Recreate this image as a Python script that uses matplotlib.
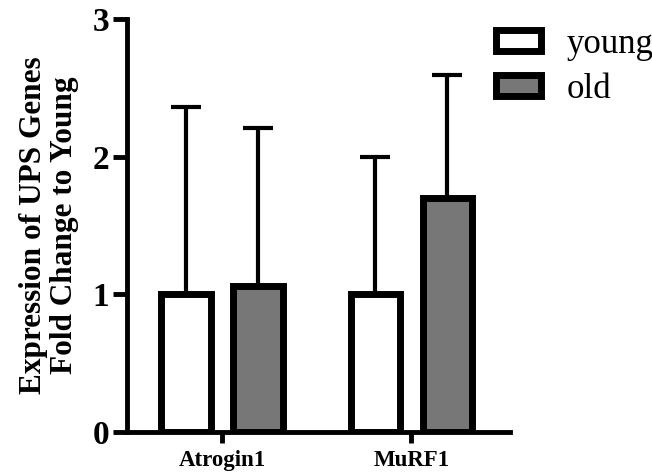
import matplotlib
matplotlib.use("Agg")
import matplotlib.pyplot as plt
import numpy as np
from matplotlib.patches import Patch

categories = ["Atrogin1", "MuRF1"]
groups = ["young", "old"]
young_mean = [1.0, 1.0]
young_sd = [1.36, 1.0]
old_mean = [1.06, 1.70]
old_sd = [1.15, 0.89]
yticks = [0, 1, 2, 3]

plt.rcParams['font.family'] = ['Liberation Serif', 'DejaVu Serif']

fig = plt.figure(figsize=(6.52, 4.75), dpi=100)
ax = fig.add_axes([0.195, 0.0905, 0.587, 0.8695])

x = np.arange(len(categories))
w = 0.26
off = 0.19
colors = ["white", "#777777"]
for i, (m, s) in enumerate([(young_mean, young_sd), (old_mean, old_sd)]):
    pos = x + (-off if i == 0 else off)
    ax.errorbar(pos, m, yerr=[np.zeros(len(m)), s], fmt='none', ecolor='black',
                elinewidth=3, capsize=11, capthick=3, zorder=1)
    ax.bar(pos, m, width=w, color=colors[i], edgecolor='black', linewidth=5,
           zorder=2, label=groups[i])

ax.set_xlim(-0.5, 1.52)
ax.set_ylim(0, 3)
ax.set_yticks(yticks)
ax.set_yticklabels([str(t) for t in yticks], fontsize=24, fontweight='bold')
ax.set_xticks(x)
ax.set_xticklabels(categories, fontsize=16.5, fontweight='bold')
for sp in ['top', 'right']:
    ax.spines[sp].set_visible(False)
for sp in ['left', 'bottom']:
    ax.spines[sp].set_linewidth(3.5)
ax.tick_params(axis='y', width=3.5, length=10, pad=3)
ax.tick_params(axis='x', width=3.5, length=8, pad=5)

ax.set_ylabel("Expression of UPS Genes\nFold Change to Young", fontsize=22.5,
              fontweight='bold', labelpad=10, linespacing=1.05)

handles = [Patch(facecolor=colors[i], edgecolor='black', linewidth=5, label=groups[i])
           for i in range(2)]
fig.legend(handles=handles, loc='upper left', bbox_to_anchor=(0.761, 0.942),
           frameon=False, fontsize=25, handlelength=1.3, handleheight=0.55,
           handletextpad=0.72, labelspacing=0.36, borderaxespad=0, borderpad=0)

fig.savefig("out.png", dpi=100)
